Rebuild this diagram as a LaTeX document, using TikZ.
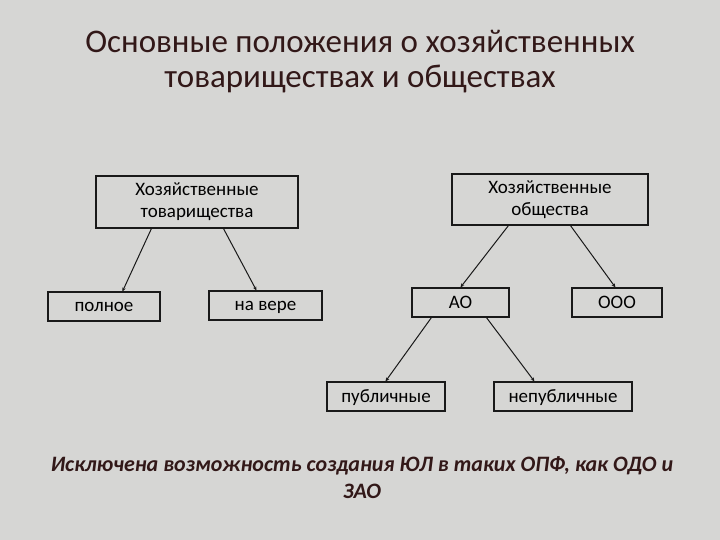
\documentclass[tikz,border=0pt]{standalone}
\usepackage{fontspec}
\setmainfont{Carlito}
\usetikzlibrary{arrows.meta}
\definecolor{bg}{RGB}{214,214,212}
\definecolor{titlec}{RGB}{50,24,24}
\begin{document}
\begin{tikzpicture}[x=1bp,y=-1bp,
  box/.style={draw=black!90, line width=1.1bp, inner sep=0pt,
    font=\fontsize{19bp}{22bp}\selectfont, text=black},
  box2/.style={box, align=center},
  lowtext/.style={text depth=0pt},
  conn/.style={line width=1bp, draw=black!90, -{Stealth[length=4bp,width=3.5bp]}}]
\fill[bg] (0,0) rectangle (720,540);
\useasboundingbox (0,0) rectangle (720,540);

\node[font=\fontsize{33bp}{35bp}\selectfont, text=titlec, align=center] (title) at (360,62)
  {Основные положения о хозяйственных\\товариществах и обществах};

\node[box2, minimum width=202bp, minimum height=52bp] (tov) at (197,202) {Хозяйственные\\товарищества};
\node[box2, minimum width=196bp, minimum height=51bp] (obs) at (550,199.5) {Хозяйственные\\общества};
\node[box, lowtext, minimum width=112bp, minimum height=29bp] (pol) at (104,306.5) {полное};
\node[box, lowtext, minimum width=113bp, minimum height=29bp] (ver) at (265.5,305.5) {на вере};
\node[box, minimum width=97bp, minimum height=29bp] (ao) at (460.5,302.5) {АО};
\node[box, minimum width=90bp, minimum height=29bp] (ooo) at (617,302.5) {ООО};
\node[box, lowtext, minimum width=118bp, minimum height=29bp] (pub) at (386,396.5) {публичные};
\node[box, lowtext, minimum width=138bp, minimum height=29bp] (npub) at (563,396.5) {непубличные};

\draw[conn] ([xshift=56bp]tov.south west) -- ([xshift=75bp]pol.north west);
\draw[conn] ([xshift=128bp]tov.south west) -- ([xshift=48bp]ver.north west);
\draw[conn] ([xshift=57bp]obs.south west) -- ([xshift=49bp]ao.north west);
\draw[conn] ([xshift=119bp]obs.south west) -- ([xshift=44bp]ooo.north west);
\draw[conn] ([xshift=20bp]ao.south west) -- ([xshift=59bp]pub.north west);
\draw[conn] ([xshift=75bp]ao.south west) -- ([xshift=41bp]npub.north west);

\node[font=\fontsize{22bp}{27bp}\selectfont\bfseries\itshape, text=titlec, align=center] (note) at (362,478)
  {Исключена возможность создания ЮЛ в таких ОПФ, как ОДО и\\ЗАО};
\end{tikzpicture}
\end{document}
